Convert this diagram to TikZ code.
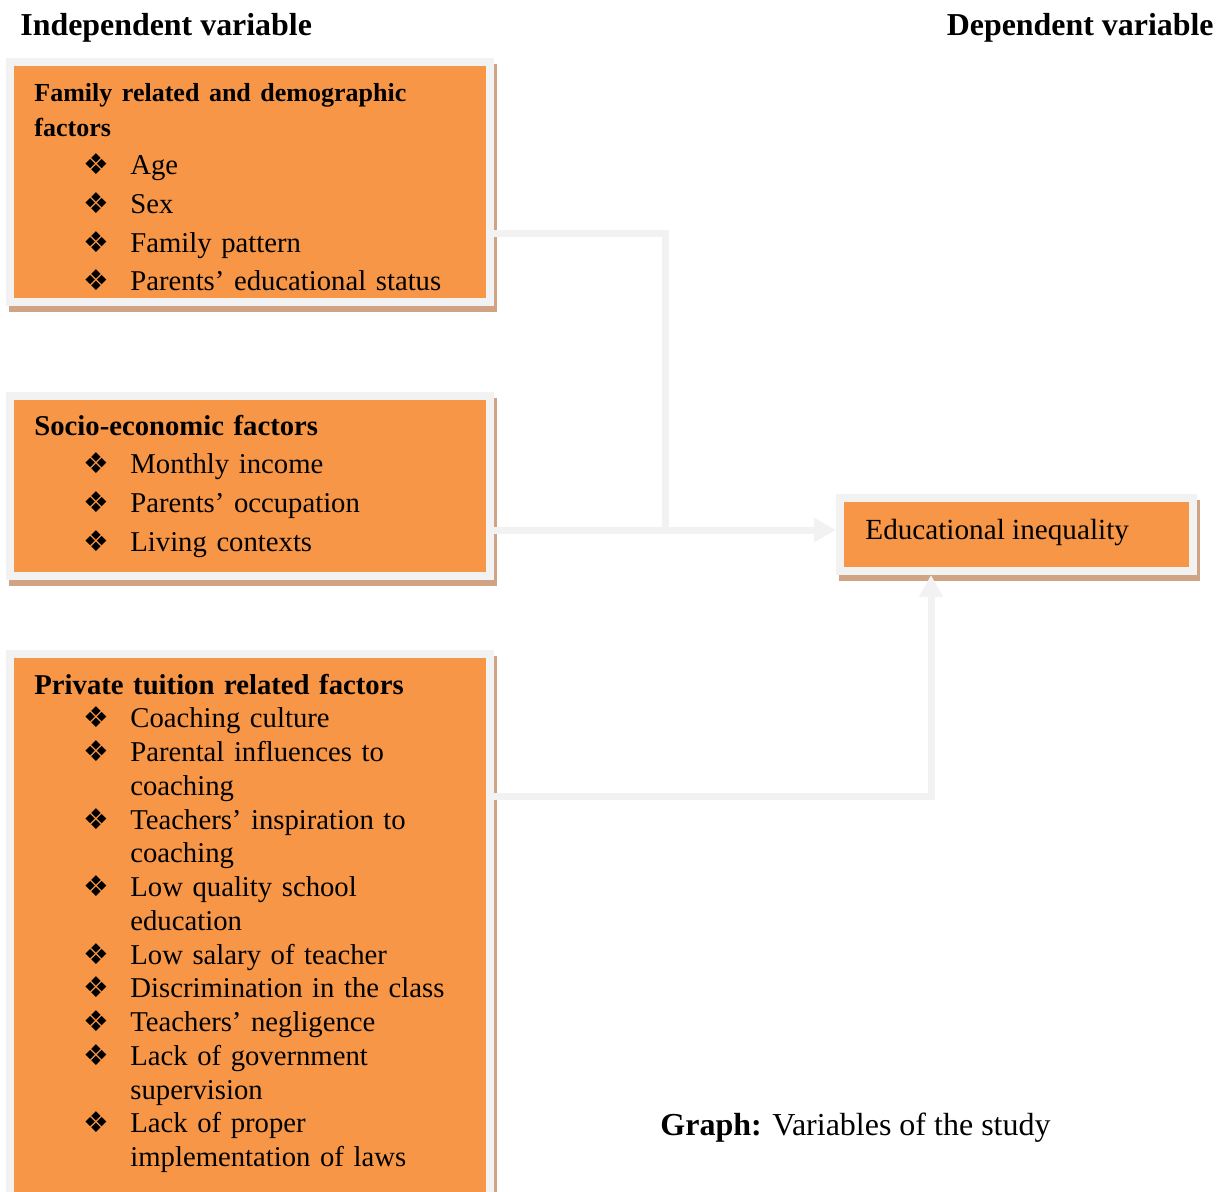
\documentclass[tikz,border=0pt]{standalone}
\usepackage{fontspec}
\setmainfont{Liberation Serif}
\newfontfamily\bulfont{DejaVu Sans}
\usetikzlibrary{arrows.meta,positioning}

\definecolor{boxorange}{HTML}{F79646}
\definecolor{boxrim}{HTML}{F2F2F2}
\definecolor{boxshade}{RGB}{208,163,132}

\newcommand{\itm}{\hspace*{24.5pt}\makebox[23.5pt][l]{\bulfont\char"2756}}
\newcommand{\cnt}{\hspace*{48pt}}

\begin{document}
\begin{tikzpicture}[x=0.5pt,y=-0.5pt,>=Latex,
  factorbox/.style={fill=boxorange,draw=boxrim,line width=4pt,anchor=north west,inner sep=0pt,outer sep=0pt,
    preaction={fill=boxshade,draw=boxshade,line width=4pt,transform canvas={xshift=1.5pt,yshift=-3pt}}},
  itemtext/.style={anchor=base west,inner sep=0pt,align=left,text width=235pt,
    font=\fontsize{14.35}{19.35}\selectfont},
  link/.style={draw=boxrim,line width=3.5pt},
  tip/.style={-{Triangle[length=11pt,width=11.5pt]}}]
\useasboundingbox (0,0) rectangle (1226,1191);

% boxes
\node[factorbox,minimum width=240pt,minimum height=120pt] (fam) at (10,62) {};
\node[factorbox,minimum width=240pt,minimum height=90pt] (socio) at (10,396) {};
\node[factorbox,minimum width=240pt,minimum height=282pt] (tuition) at (10,654) {};
\node[factorbox,minimum width=176.5pt,minimum height=36.5pt] (edu) at (840,498) {};

% titles
\node[anchor=base west,inner sep=0pt,font=\fontsize{15.95}{18}\selectfont\bfseries] (indep) at (20,35) {Independent variable};
\node[anchor=base east,inner sep=0pt,font=\fontsize{15.95}{18}\selectfont\bfseries] (dep) at (1214,35) {Dependent variable};

% box texts
\node[itemtext] (famtxt) at (34,101) {{\fontsize{13}{17.5}\selectfont\bfseries Family related and demographic\\ factors\par}
  \itm Age\\ \itm Sex\\ \itm Family pattern\\ \itm Parents’ educational status};
\node[itemtext] (sociotxt) at (34,435) {\textbf{Socio-economic factors}\\ \itm Monthly income\\
  \itm Parents’ occupation\\ \itm Living contexts};
\node[itemtext,font=\fontsize{14.35}{16.88}\selectfont] (tuitiontxt) at (34,694) {\textbf{Private tuition related factors}\\
  \itm Coaching culture\\ \itm Parental influences to\\ \cnt coaching\\
  \itm Teachers’ inspiration to\\ \cnt coaching\\ \itm Low quality school\\ \cnt education\\
  \itm Low salary of teacher\\ \itm Discrimination in the class\\ \itm Teachers’ negligence\\
  \itm Lack of government\\ \cnt supervision\\ \itm Lack of proper\\ \cnt implementation of laws};
\node[anchor=base west,inner sep=0pt,font=\fontsize{14.6}{18}\selectfont] (edutxt) at (865,539) {Educational inequality};

% caption
\node[anchor=base west,inner sep=0pt,font=\fontsize{16}{18}\selectfont] (graph) at (660,1135) {\textbf{Graph:} Variables of the study};

% connectors
\coordinate (join) at (665,530);
\coordinate (bend) at (931,796);
\draw[link] ([yshift=-25.5pt]fam.east) -| (join);
\draw[link,tip] (socio.east |- join) -- ([xshift=-2pt]edu.west |- join);
\draw[link,tip] (tuition.east |- bend) -- (bend) -- ([yshift=-2pt]bend |- edu.south);
\end{tikzpicture}
\end{document}
